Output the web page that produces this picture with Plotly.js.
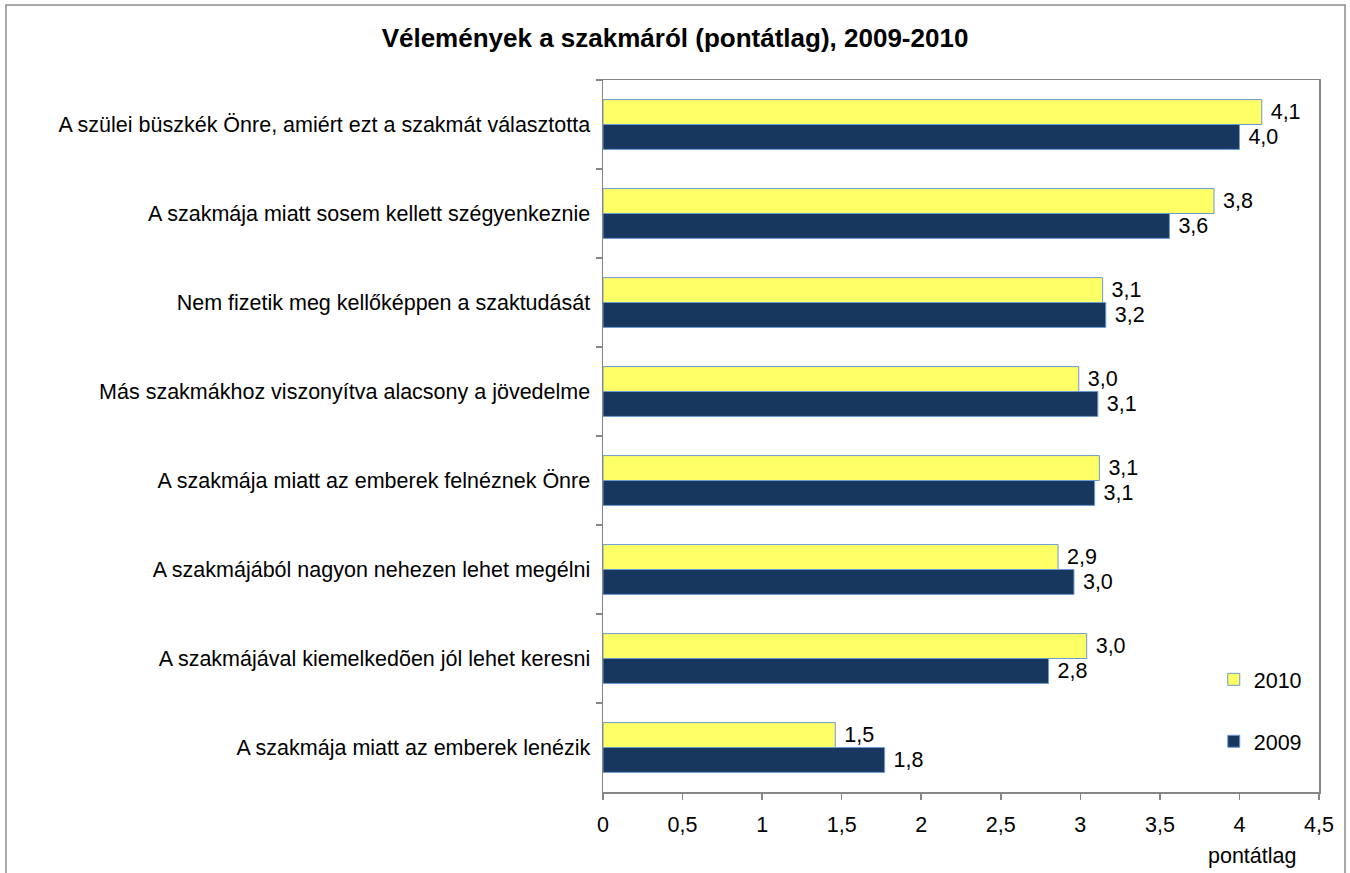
<!DOCTYPE html>
<html>
<head>
<meta charset="utf-8">
<script src="https://cdn.plot.ly/plotly-3.0.1.min.js"></script>
<style>html,body{margin:0;padding:0;background:#fff;}#chart{width:1350px;height:873px;}</style>
</head>
<body>
<div id="chart"></div>
<script>
const categories = [
  "A szülei büszkék Önre, amiért ezt a szakmát választotta",
  "A szakmája miatt sosem kellett szégyenkeznie",
  "Nem fizetik meg kellőképpen a szaktudását",
  "Más szakmákhoz viszonyítva alacsony a jövedelme",
  "A szakmája miatt az emberek felnéznek Önre",
  "A szakmájából nagyon nehezen lehet megélni",
  "A szakmájával kiemelkedõen jól lehet keresni",
  "A szakmája miatt az emberek lenézik"
];
const values2010 = [4.14, 3.84, 3.14, 2.99, 3.12, 2.86, 3.04, 1.46];
const values2009 = [4.00, 3.56, 3.16, 3.11, 3.09, 2.96, 2.80, 1.77];
const seriesNames = ["2010", "2009"];
const titleText = "Vélemények a szakmáról (pontátlag), 2009-2010";
const xAxisLabel = "pontátlag";

const FONT = "Liberation Sans, Arial, sans-serif";
const FS = 21.5;
const edge = {color: "rgb(108,155,210)", width: 1};

const traces = [
  {
    type: "bar", orientation: "h", name: seriesNames[0],
    y: categories, x: values2010,
    marker: {color: "#FFFF66", line: edge},
    texttemplate: "\u00a0%{x:.1f}", textposition: "outside", constraintext: "none",
    textfont: {family: FONT, size: FS, color: "#000"}, cliponaxis: false,
    legend: "legend", showlegend: true, hoverinfo: "x+y"
  },
  {
    type: "bar", orientation: "h", name: seriesNames[1],
    y: categories, x: values2009,
    marker: {color: "#17375E", line: edge},
    texttemplate: "\u00a0%{x:.1f}", textposition: "outside", constraintext: "none",
    textfont: {family: FONT, size: FS, color: "#000"}, cliponaxis: false,
    legend: "legend2", showlegend: true, hoverinfo: "x+y"
  }
];

const axisColor = "#868686";
const layout = {
  width: 1350, height: 873,
  margin: {l: 603, r: 31, t: 80, b: 81, pad: 0},
  paper_bgcolor: "#fff", plot_bgcolor: "#fff",
  separators: ", ",
  showlegend: true,
  font: {family: FONT, size: FS, color: "#000"},
  title: {
    text: titleText, xref: "container", x: 0.5, xanchor: "center",
    yref: "container", y: 1 - 38/873, yanchor: "middle",
    font: {family: FONT, size: 26, weight: 700, color: "#000"}
  },
  barmode: "group", bargap: 0.44, bargroupgap: 0,
  xaxis: {
    range: [0, 4.5], tick0: 0, dtick: 0.5, showgrid: false, zeroline: false,
    showline: true, linecolor: axisColor, linewidth: 1.5, mirror: true,
    ticks: "outside", ticklen: 6, tickcolor: axisColor, tickwidth: 1.5,
    ticklabelstandoff: 7,
    tickfont: {family: FONT, size: FS, color: "#000"}, fixedrange: true
  },
  yaxis: {
    type: "category", autorange: "reversed", tickson: "boundaries",
    showgrid: false, zeroline: false,
    showline: true, linecolor: axisColor, linewidth: 1.5, mirror: true,
    ticks: "outside", ticklen: 6, tickcolor: axisColor, tickwidth: 1.5,
    ticklabelstandoff: 7,
    tickfont: {family: FONT, size: FS, color: "#000"}, fixedrange: true
  },
  legend: {
    visible: true,
    x: 0.853, xanchor: "left", y: 0.187, yanchor: "top",
    bgcolor: "rgba(0,0,0,0)", font: {family: FONT, size: FS, color: "#000"},
    itemwidth: 30
  },
  legend2: {
    visible: true,
    x: 0.853, xanchor: "left", y: 0.1, yanchor: "top",
    bgcolor: "rgba(0,0,0,0)", font: {family: FONT, size: FS, color: "#000"},
    itemwidth: 30
  },
  annotations: [{
    text: xAxisLabel, xref: "paper", yref: "paper",
    x: (1298 - 603) / 716, xanchor: "right",
    y: (792 - 856) / 712, yanchor: "middle",
    showarrow: false, font: {family: FONT, size: FS, color: "#000"}
  }],
  shapes: [{
    type: "rect", xref: "paper", yref: "paper",
    x0: (6 - 603) / 716, x1: (1345 - 603) / 716,
    y0: (792 - 890) / 712, y1: (792 - 5) / 712,
    line: {color: "#8c8c8c", width: 1.5}, fillcolor: "rgba(0,0,0,0)", layer: "below"
  }]
};

Plotly.newPlot("chart", traces, layout, {displayModeBar: false, staticPlot: true});
</script>
</body>
</html>
